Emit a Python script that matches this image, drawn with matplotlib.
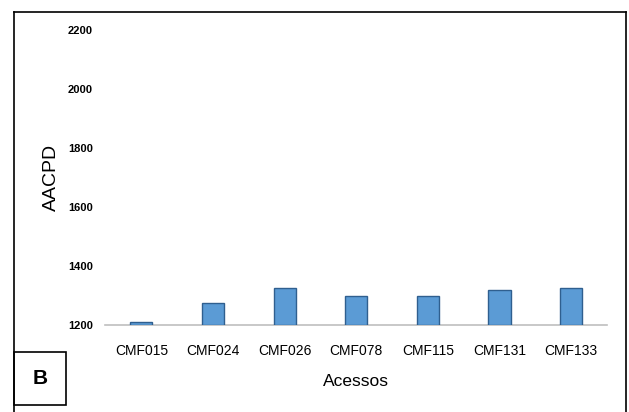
import matplotlib
matplotlib.use("Agg")
import matplotlib.pyplot as plt
from matplotlib.lines import Line2D
from matplotlib.patches import Rectangle

# data
acessos = ["CMF015", "CMF024", "CMF026", "CMF078", "CMF115", "CMF131", "CMF133"]
aacpd = [1209, 1273, 1324, 1299, 1299, 1317, 1324]
y_ticks = [1200, 1400, 1600, 1800, 2000, 2200]

fam = ["Liberation Sans Narrow", "Liberation Sans", "DejaVu Sans"]

fig = plt.figure(figsize=(6.29, 4.12), dpi=100)
ax = fig.add_axes([105.5 / 629, 1 - 325 / 412, (607 - 105.5) / 629, (325 - 30) / 412])

x = range(len(acessos))
ax.bar(x, [v - 1200 for v in aacpd], bottom=1200, width=0.31,
       color="#5b9bd5", edgecolor="#2f5f8f", linewidth=1.0, zorder=3)

ax.set_xlim(-0.5, len(acessos) - 0.5)
ax.set_ylim(1200, 2200)
ax.set_yticks(y_ticks)
ax.set_yticklabels([str(t) for t in y_ticks], fontsize=8, fontweight="bold",
                   family=fam)
ax.set_xticks(list(x))
ax.set_xticklabels(acessos, fontsize=10, family=fam)
ax.tick_params(axis="both", length=0)
ax.tick_params(axis="y", pad=9)
ax.tick_params(axis="x", pad=14)

for s in ["top", "right", "left"]:
    ax.spines[s].set_visible(False)
ax.spines["bottom"].set_color("#bfbfbf")
ax.spines["bottom"].set_linewidth(1.2)

ax.set_ylabel("AACPD", fontsize=14, family=fam[1:], labelpad=6)
ax.set_xlabel("Acessos", fontsize=12.5, family=fam, labelpad=11)

# outer frame (bottom edge runs off the image)
W, H = 629, 412
fig.add_artist(Line2D([14 / W, 14 / W], [0, 1 - 12 / H], transform=fig.transFigure,
                      color="black", lw=1.2))
fig.add_artist(Line2D([14 / W, 626 / W], [1 - 12 / H, 1 - 12 / H], transform=fig.transFigure,
                      color="black", lw=1.2))
fig.add_artist(Line2D([626 / W, 626 / W], [0, 1 - 12 / H], transform=fig.transFigure,
                      color="black", lw=1.2))

# panel letter box
fig.add_artist(Rectangle((14 / W, 1 - 405 / H), 52 / W, 53 / H, transform=fig.transFigure,
                         fill=False, edgecolor="black", lw=1.2))
fig.text(40 / W, 1 - 379 / H, "B", fontsize=15, fontweight="bold",
         ha="center", va="center", family=fam[1:])

fig.savefig("out.png", dpi=100)
